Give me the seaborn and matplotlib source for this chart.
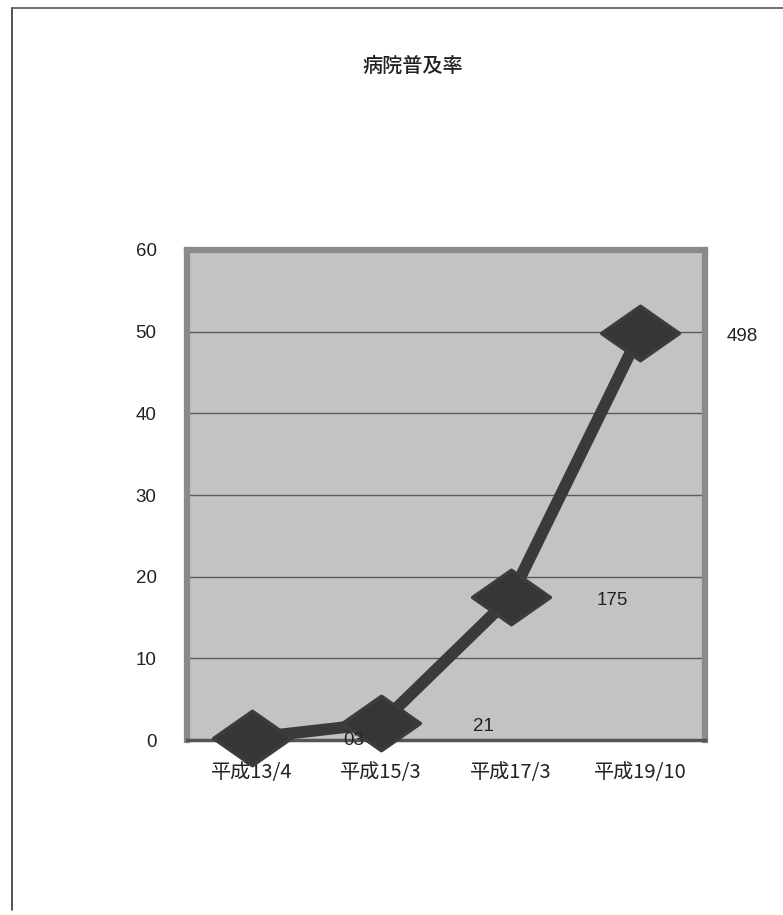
import matplotlib
matplotlib.use("Agg")
import matplotlib.pyplot as plt
import seaborn as sns
import pandas as pd
from matplotlib.path import Path
from matplotlib.lines import Line2D

# ---- data ----
categories = ["平成13/4", "平成15/3", "平成17/3", "平成19/10"]
values = [0.3, 2.1, 17.5, 49.8]
value_labels = ["03", "21", "175", "498"]
yticks = [0, 10, 20, 30, 40, 50, 60]
title = "病院普及率"

sns.set_style("white")
plt.rcParams["font.family"] = ["Noto Sans CJK JP", "DejaVu Sans"]

fig = plt.figure(figsize=(7.83, 9.15), dpi=100)
fig.patch.set_facecolor("white")
ax = fig.add_axes([0.239, 0.191, 0.661, 0.536])
ax.set_facecolor("#c3c3c3")

df = pd.DataFrame({"cat": categories, "val": values})

diamond = Path([(-1, 0), (0, 0.7), (1, 0), (0, -0.7), (-1, 0)],
               [Path.MOVETO, Path.LINETO, Path.LINETO, Path.LINETO, Path.CLOSEPOLY])

for y in yticks[1:-1]:
    ax.axhline(y, color="#5a5a5a", lw=1.0, zorder=1)

sns.lineplot(data=df, x="cat", y="val", ax=ax, color="#3a3a3a", linewidth=8.5,
             marker=diamond, markersize=56, markerfacecolor="#363636",
             markeredgecolor="#3c3c3c", markeredgewidth=2.5, sort=False,
             zorder=3, clip_on=False)
for line in ax.lines:
    line.set_solid_joinstyle("round")

for i, (v, lab) in enumerate(zip(values, value_labels)):
    ax.annotate(lab, xy=(i, v), xytext=(102, -3), textcoords="offset pixels",
                ha="center", va="center", fontsize=13.5, color="#222222",
                family="Liberation Sans", zorder=5, annotation_clip=False)

ax.set_xlim(-0.5, 3.5)
ax.set_ylim(0, 60)
ax.set_yticks(yticks)
ax.set_yticklabels([str(t) for t in yticks], family="Liberation Sans",
                   fontsize=13.5, color="#222222")
ax.set_xticks(range(len(categories)))
ax.set_xticklabels(categories, fontsize=14.5, color="#222222")
ax.tick_params(axis="y", length=0, pad=22)
ax.tick_params(axis="x", length=0, pad=16)
# boundary ticks on bottom axis
ax.set_xticks([0.5, 1.5, 2.5], minor=True)
ax.tick_params(axis="x", which="minor", direction="in", length=5, color="#444444", width=1)
ax.set_xlabel("")
ax.set_ylabel("")

for side in ["top", "left", "right"]:
    ax.spines[side].set_visible(True)
    ax.spines[side].set_color("#8a8a8a")
    ax.spines[side].set_linewidth(4.5)
ax.spines["bottom"].set_color("#555555")
ax.spines["bottom"].set_linewidth(2.5)

fig.text(0.527, 0.927, title, ha="center", va="center", fontsize=14.5,
         fontweight="medium", color="#222222")

# page frame
fig.add_artist(Line2D([12 / 783, 12 / 783], [1 - 8 / 915, 1 - 910 / 915],
                      transform=fig.transFigure, color="#333333", lw=1.2))
fig.add_artist(Line2D([12 / 783, 1.0], [1 - 8 / 915, 1 - 8 / 915],
                      transform=fig.transFigure, color="#555555", lw=1.2))

fig.savefig("out.png", dpi=100)
